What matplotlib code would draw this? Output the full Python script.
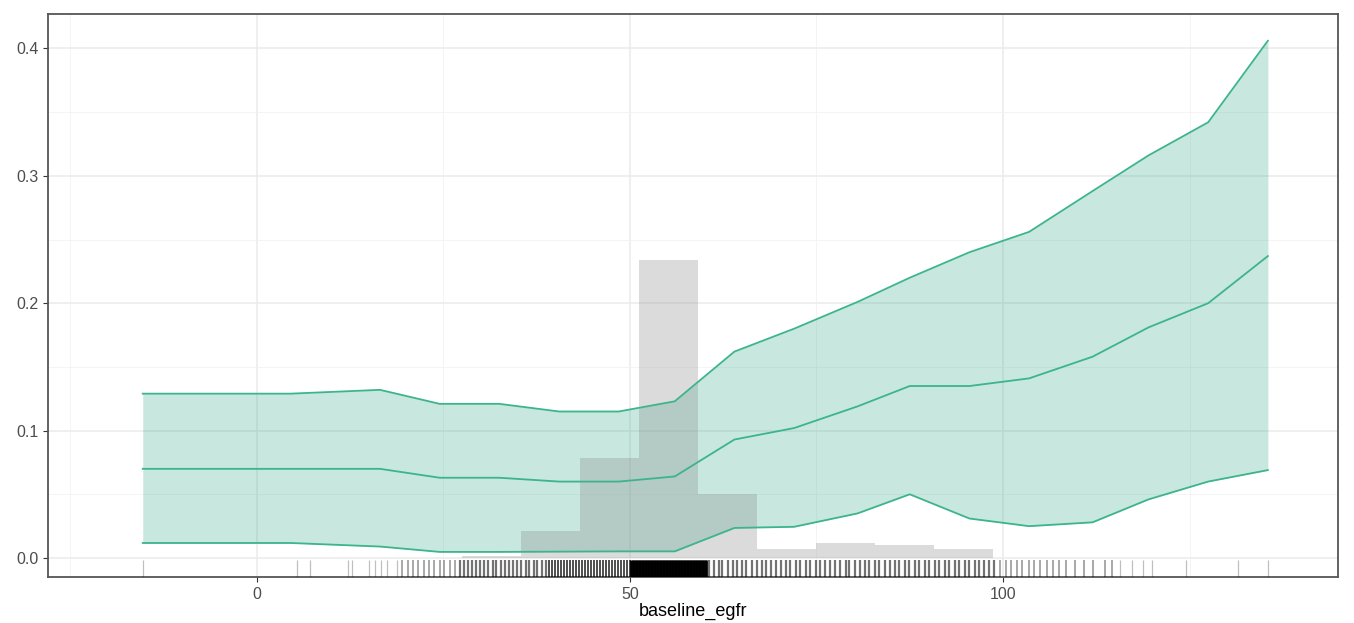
import numpy as np
import matplotlib
matplotlib.use("Agg")
import matplotlib.pyplot as plt
from matplotlib.ticker import MultipleLocator

plt.rcParams['font.family'] = ['Liberation Sans', 'DejaVu Sans']

# effect curve with confidence band
x_knots = [-15.3, 4.5, 16.5, 24.5, 32.5, 40.5, 48.5, 56.0, 64.0, 72.0,
           80.5, 87.5, 95.5, 103.5, 112.0, 119.5, 127.5, 135.5]
est = [0.070, 0.070, 0.070, 0.063, 0.063, 0.060, 0.060, 0.064, 0.093, 0.102,
       0.119, 0.135, 0.135, 0.141, 0.158, 0.181, 0.200, 0.237]
upper = [0.129, 0.129, 0.132, 0.121, 0.121, 0.115, 0.115, 0.123, 0.162, 0.180,
         0.201, 0.220, 0.240, 0.256, 0.288, 0.316, 0.342, 0.406]
lower = [0.0118, 0.0118, 0.009, 0.0048, 0.0048, 0.0050, 0.0052, 0.0052, 0.0236, 0.0245,
         0.035, 0.050, 0.031, 0.025, 0.028, 0.046, 0.060, 0.069]

# histogram of baseline_egfr (scaled)
hist_edges = [27.5, 35.4, 43.3, 51.2, 59.1, 67.0, 74.9, 82.8, 90.7, 98.6]
hist_heights = [0.0015, 0.021, 0.0785, 0.234, 0.050, 0.007, 0.012, 0.010, 0.007]

# rug positions, grouped by how dark they look
rug_sparse = [-15.3, 5.4, 7.1, 12.2, 12.7, 15.0, 15.8, 16.6, 17.5, 18.8,
              115.7, 117.3, 118.8, 120.0, 124.5, 131.5, 135.5]
rug_low = [19.5, 20.3, 20.9, 21.6, 22.4, 23.0, 23.8, 24.5, 25.1, 25.9, 26.6,
           99.6, 100.4, 101.1, 101.9, 102.6, 103.5, 104.2, 105.0, 105.9, 106.7,
           107.5, 108.4, 109.6, 110.8, 112.1, 113.7, 114.6]
rug_mid = [27.2, 27.7, 28.3, 28.8, 29.4, 29.9, 30.5, 31.0, 31.6, 32.1, 32.7,
           33.2, 33.8, 34.3, 34.9, 35.4, 36.0, 36.5, 37.1, 37.6, 38.2, 38.7,
           60.6, 61.2, 61.9, 62.4, 63.1, 63.8, 64.3, 65.0, 65.6, 66.4, 67.0,
           67.7, 68.2, 68.9, 69.6, 70.2, 70.9, 71.5, 72.3, 72.8, 73.6, 74.1,
           74.9, 75.5, 76.2, 76.8, 77.5, 78.1, 78.9, 79.4, 80.2, 80.8, 81.5,
           82.1, 82.9, 83.4, 84.2, 84.8, 85.5, 86.1, 86.9, 87.4, 88.2, 88.8,
           89.5, 90.1, 90.9, 91.4, 92.2, 92.8, 93.5, 94.1, 94.9, 95.4, 96.2,
           96.8, 97.5, 98.1, 98.8]
rug_high = [39.2, 39.6, 40.0, 40.4, 40.8, 41.2, 41.6, 42.0, 42.4, 42.8, 43.2,
            43.6, 44.0, 44.4, 44.8, 45.2, 45.6, 46.0, 46.4, 46.8, 47.2, 47.6,
            48.0, 48.4, 48.8, 49.2, 49.6, 50.0]
rug_peak = [50.2, 50.4, 50.6, 50.8, 51.0, 51.2, 51.4, 51.6, 51.8, 52.0, 52.2,
            52.4, 52.6, 52.8, 53.0, 53.2, 53.4, 53.6, 53.8, 54.0, 54.2, 54.4,
            54.6, 54.8, 55.0, 55.2, 55.4, 55.6, 55.8, 56.0, 56.2, 56.4, 56.6,
            56.8, 57.0, 57.2, 57.4, 57.6, 57.8, 58.0, 58.2, 58.4, 58.6, 58.8,
            59.0, 59.2, 59.4, 59.6, 59.8, 60.0, 60.2]

fig = plt.figure(figsize=(13.54, 6.23), dpi=100)
ax = fig.add_axes([48/1354, 1 - 577/623, (1338 - 48)/1354, (577 - 14)/623])

ax.fill_between(x_knots, lower, upper, color='#1b9e77', alpha=0.24, lw=0, zorder=2)

widths = np.diff(hist_edges)
ax.bar(hist_edges[:-1], hist_heights, width=widths, align='edge',
       color='#868686', alpha=0.29, lw=0, zorder=3)

ax.plot(x_knots, est, color='#3cb48c', lw=1.3, zorder=4)
ax.plot(x_knots, upper, color='#3cb48c', lw=1.3, zorder=4)
ax.plot(x_knots, lower, color='#3cb48c', lw=1.3, zorder=4)

tr = ax.get_xaxis_transform()
for vals, a, w in [(rug_sparse, 0.25, 0.9), (rug_low, 0.4, 1.2), (rug_mid, 0.55, 1.6),
                   (rug_high, 0.75, 1.3), (rug_peak, 1.0, 2.0)]:
    ax.vlines(vals, 0, 0.03, transform=tr, color='black', alpha=a, lw=w, zorder=5)

ax.set_xlim(-28.0, 144.9)
ax.set_ylim(-0.0149, 0.427)

ax.xaxis.set_major_locator(MultipleLocator(50))
ax.xaxis.set_minor_locator(MultipleLocator(25))
ax.yaxis.set_major_locator(MultipleLocator(0.1))
ax.yaxis.set_minor_locator(MultipleLocator(0.05))
ax.set_xticks([0, 50, 100])
ax.set_xticklabels(['0', '50', '100'])
ax.set_yticks([0.0, 0.1, 0.2, 0.3, 0.4])
ax.set_yticklabels(['0.0', '0.1', '0.2', '0.3', '0.4'])

ax.grid(which='major', color='#ebebeb', lw=1.1, zorder=0)
ax.grid(which='minor', color='#f2f2f2', lw=0.6, zorder=0)
ax.set_axisbelow(True)

ax.tick_params(which='major', length=3.5, width=0.8, color='#333333',
               labelcolor='#4d4d4d', labelsize=11.5, pad=3.5)
ax.tick_params(which='minor', length=0)
for s in ax.spines.values():
    s.set_color('#555555')
    s.set_linewidth(1.3)

ax.set_xlabel('baseline_egfr', fontsize=13, color='black')
ax.xaxis.set_label_coords(0.5, -0.062)
ax.xaxis.label.set_va('center')

fig.savefig('out.png', dpi=100)
